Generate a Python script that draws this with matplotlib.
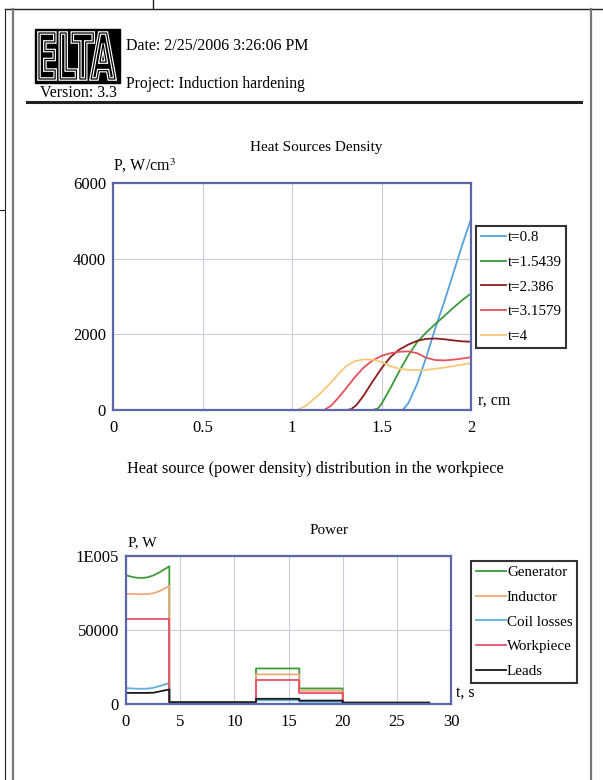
import numpy as np
import matplotlib
matplotlib.use('Agg')
import matplotlib.pyplot as plt
from matplotlib.textpath import TextPath
from matplotlib.font_manager import FontProperties
from matplotlib.patches import PathPatch, Rectangle
from matplotlib.transforms import Affine2D

plt.rcParams['font.family'] = ['Liberation Serif', 'DejaVu Serif']
plt.rcParams['mathtext.fontset'] = 'stix'

# --- Heat sources density, P (W/cm^3) vs r (cm) ---
r_08 = [0, 1.6, 1.62, 1.65, 1.7, 1.75, 1.8, 1.85, 1.9, 1.95, 2.0]
p_08 = [0, 0, 10, 180, 700, 1400, 2150, 2850, 3600, 4350, 5050]

r_15 = [0, 1.45, 1.48, 1.5, 1.55, 1.6, 1.65, 1.7, 1.75, 1.8, 1.85, 1.9, 1.95, 2.0]
p_15 = [0, 0, 40, 160, 580, 1030, 1450, 1800, 2050, 2270, 2480, 2700, 2900, 3080]

r_23 = [0, 1.3, 1.33, 1.36, 1.4, 1.45, 1.5, 1.55, 1.6, 1.65, 1.7, 1.75, 1.8, 1.85, 1.9, 1.95, 2.0]
p_23 = [0, 0, 20, 130, 380, 750, 1100, 1400, 1600, 1730, 1830, 1880, 1890, 1870, 1840, 1815, 1805]

r_31 = [0, 1.18, 1.22, 1.26, 1.3, 1.35, 1.4, 1.45, 1.5, 1.55, 1.6, 1.65, 1.7, 1.75, 1.8, 1.85, 1.9, 1.95, 2.0]
p_31 = [0, 0, 120, 330, 560, 860, 1120, 1310, 1430, 1500, 1540, 1550, 1500, 1380, 1320, 1310, 1330, 1360, 1395]

r_40 = [0, 1.03, 1.08, 1.12, 1.16, 1.2, 1.25, 1.3, 1.35, 1.4, 1.45, 1.5, 1.55, 1.6, 1.65, 1.7, 1.75, 1.8, 1.85, 1.9, 1.95, 2.0]
p_40 = [0, 0, 120, 280, 450, 640, 900, 1150, 1290, 1340, 1330, 1270, 1160, 1090, 1060, 1050, 1060, 1090, 1120, 1160, 1200, 1240]

density_labels = ['t=0.8', 't=1.5439', 't=2.386', 't=3.1579', 't=4']
density_colors = ['#55a2dc', '#3a9a3a', '#8a1c1c', '#e8505a', '#f8c878']

# --- Power, P (W) vs t (s) ---
t_heat = [0, 0.5, 1, 1.5, 2, 2.5, 3, 3.5, 4]
gen_heat = [87000, 86000, 85300, 85200, 85600, 86800, 88600, 90800, 93000]
ind_heat = [74500, 74300, 74200, 74200, 74300, 74800, 76000, 77800, 79800]
coil_heat = [10800, 10500, 10300, 10300, 10400, 10900, 11900, 13000, 14200]
work_heat = [57500, 57500, 57500, 57500, 57500, 57500, 57500, 57500, 57500]
leads_heat = [7500, 7500, 7500, 7500, 7500, 7600, 8300, 9100, 9800]

t_steps = [4, 12, 16, 20, 28]
gen_steps = [0, 24000, 10500, 0]
ind_steps = [0, 20000, 9000, 0]
coil_steps = [0, 2500, 1500, 0]
work_steps = [0, 16300, 7200, 0]
leads_steps = [1300, 3500, 2300, 1000]

power_labels = ['Generator', 'Inductor', 'Coil losses', 'Workpiece', 'Leads']
power_colors = ['#3c9c3c', '#f0a878', '#5fb0e0', '#e8506a', '#1a1a1a']


def power_curve(heat, steps):
    xs = list(t_heat)
    ys = list(heat)
    for i, v in enumerate(steps):
        xs += [t_steps[i], t_steps[i + 1]]
        ys += [v, v]
    return xs, ys


W, H = 603, 780
fig = plt.figure(figsize=(W / 100, H / 100), dpi=100)

# page decorations in pixel coordinates
bg = fig.add_axes([0, 0, 1, 1], zorder=-1)
bg.set_xlim(0, W)
bg.set_ylim(H, 0)
bg.axis('off')
bg.plot([5, W], [9, 9], color='#222222', lw=1.0)
bg.plot([153, 153], [0, 9], color='#222222', lw=1.0)
bg.plot([5, 5], [9, H], color='#222222', lw=0.8)
bg.plot([0, 5], [210, 210], color='#222222', lw=0.8)
bg.plot([13, 13], [9, H], color='#777777', lw=1.6)
bg.plot([591, 591], [9, H], color='#777777', lw=1.6)
bg.plot([27, 581], [102, 102], color='#222222', lw=2.2)

# logo
bg.add_patch(Rectangle((35, 29), 85, 54, color='black'))
tp = TextPath((0, 0), 'ELTA', size=1, prop=FontProperties(family='DejaVu Sans', weight='bold'))
ext = tp.get_extents()
tr = Affine2D().translate(-ext.x0, -ext.y0).scale(76 / ext.width, -46 / ext.height).translate(39, 79)
logo = tr.transform_path(tp)
bg.add_patch(PathPatch(logo, facecolor='black', edgecolor='white', lw=2.6))
bg.add_patch(PathPatch(logo, facecolor='none', edgecolor='black', lw=0.9))
bg.text(78, 93, 'Version: 3.3', ha='center', va='center', fontsize=11.5)
bg.text(126, 46, 'Date: 2/25/2006 3:26:06 PM', ha='left', va='center', fontsize=11.5)
bg.text(126, 84, 'Project: Induction hardening', ha='left', va='center', fontsize=11.2)

frame_color = '#5c66aa'
grid_color = '#c9cbd6'


def style_axes(ax):
    for s in ax.spines.values():
        s.set_color(frame_color)
        s.set_linewidth(1.6)
    ax.tick_params(length=0, labelsize=12, pad=5)
    ax.tick_params(axis='x', pad=7)
    ax.grid(True, color=grid_color, lw=0.8)
    ax.set_axisbelow(True)


# chart 1
ax1 = fig.add_axes([113 / W, 1 - 410 / H, 358 / W, 227 / H])
style_axes(ax1)
for r, p, lab, col in zip([r_08, r_15, r_23, r_31, r_40], [p_08, p_15, p_23, p_31, p_40],
                          density_labels, density_colors):
    ax1.plot(r, p, color=col, lw=1.3, label=lab)
ax1.set_xlim(0, 2)
ax1.set_ylim(0, 6000)
ax1.set_xticks([0, 0.5, 1, 1.5, 2])
ax1.set_xticklabels(['0', '0.5', '1', '1.5', '2'])
ax1.set_yticks([0, 2000, 4000, 6000])
leg1 = ax1.legend(loc='upper left', bbox_to_anchor=(476 / W, 1 - 226 / H), bbox_transform=fig.transFigure,
                  borderaxespad=0, fontsize=10.8, handlelength=1.7, handletextpad=0.1,
                  borderpad=0.3, labelspacing=0.75, fancybox=False, framealpha=1)
leg1.get_frame().set_edgecolor('#333333')
leg1.get_frame().set_linewidth(1.5)

bg.text(316, 147, 'Heat Sources Density', ha='center', va='center', fontsize=11)
bg.text(113, 166, 'P, W/cm$^3$', ha='left', va='center', fontsize=11.5)
bg.text(478, 401, 'r, cm', ha='left', va='center', fontsize=11.5)
bg.text(315, 469, 'Heat source (power density) distribution in the workpiece',
        ha='center', va='center', fontsize=11.7)

# chart 2
ax2 = fig.add_axes([126 / W, 1 - 704 / H, 325 / W, 148 / H])
style_axes(ax2)
for heat, steps, lab, col in zip([gen_heat, ind_heat, coil_heat, work_heat, leads_heat],
                                 [gen_steps, ind_steps, coil_steps, work_steps, leads_steps],
                                 power_labels, power_colors):
    xs, ys = power_curve(heat, steps)
    ax2.plot(xs, ys, color=col, lw=1.3, label=lab)
ax2.set_xlim(0, 30)
ax2.set_ylim(0, 100000)
ax2.set_xticks([0, 5, 10, 15, 20, 25, 30])
ax2.set_yticks([0, 50000, 100000])
ax2.set_yticklabels(['0', '50000', '1E005'])
leg2 = ax2.legend(loc='upper left', bbox_to_anchor=(471 / W, 1 - 561 / H), bbox_transform=fig.transFigure,
                  borderaxespad=0, fontsize=10.8, handlelength=2.0, handletextpad=0.1,
                  borderpad=0.3, labelspacing=0.75, fancybox=False, framealpha=1)
leg2.get_frame().set_edgecolor('#333333')
leg2.get_frame().set_linewidth(1.5)

bg.text(329, 531, 'Power', ha='center', va='center', fontsize=11)
bg.text(128, 543, 'P, W', ha='left', va='center', fontsize=11)
bg.text(456, 693, 't, s', ha='left', va='center', fontsize=11.5)

fig.savefig('out.png', dpi=100)
